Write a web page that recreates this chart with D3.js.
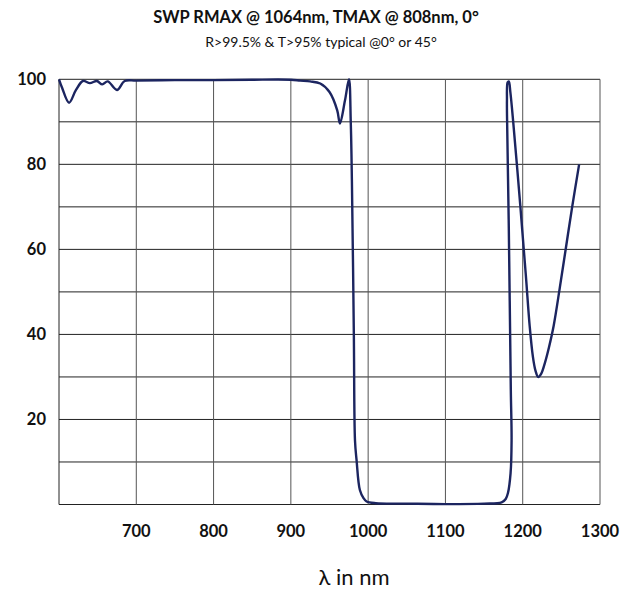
<!DOCTYPE html>
<html>
<head>
<meta charset="utf-8">
<script src="https://cdn.jsdelivr.net/npm/d3@7"></script>
<style>
  body { margin: 0; background: #fff; }
  svg { display: block; font-family: Lato, "Open Sans", sans-serif; }
</style>
</head>
<body>
<svg width="621" height="592"></svg>
<script>
// reflectance curve (nm, %R)
var wavelength = [600, 604, 613, 622, 631, 640, 649, 656, 663, 675, 685, 700, 750, 800, 850, 900,
    912, 925, 938, 950, 960, 963.5, 970, 975.2, 977.5, 979, 981.5, 983, 985, 989.3, 994, 998,
    1010, 1050, 1100, 1150, 1172.7, 1178, 1180.9, 1184.3, 1185.6, 1184.6, 1182, 1180, 1179.6,
    1180.5, 1182, 1184, 1187.7, 1197, 1204, 1209, 1213, 1216.5, 1220, 1224, 1229, 1234, 1240,
    1248, 1256, 1264, 1273];
var reflect = [100, 98, 94.5, 97.5, 99.6, 99.1, 99.6, 98.8, 99.5, 97.5, 99.6, 99.7, 99.8, 99.8, 99.9, 99.9,
    99.7, 99.5, 99.0, 97.0, 92.7, 89.6, 95, 100, 90, 76, 40, 15, 10.5, 3.4, 1.5, 0.7,
    0.3, 0.2, 0.1, 0.2, 0.5, 1.3, 2.7, 7.4, 15, 27, 65, 88, 95,
    99.3, 99.5, 97, 90, 70, 54, 42, 35, 31.5, 30, 30.8, 33.5, 37, 42,
    51, 60.5, 70, 80];

var xTicks = [700, 800, 900, 1000, 1100, 1200, 1300];
var xGrid = [600, 700, 800, 900, 1000, 1100, 1200, 1300];
var yTicks = [20, 40, 60, 80, 100];
var yGrid = [0, 10, 20, 30, 40, 50, 60, 70, 80, 90, 100];

var svg = d3.select("svg");

var x = d3.scaleLinear().domain([600, 1300]).range([59, 600]);
var y = d3.scaleLinear().domain([0, 100]).range([504.5, 79.3]);

// title
svg.append("text")
    .attr("x", 316).attr("y", 23)
    .attr("text-anchor", "middle")
    .attr("font-weight", "bold")
    .attr("font-size", "16.5px")
    .attr("fill", "#111")
    .text("SWP RMAX @ 1064nm, TMAX @ 808nm, 0°");

svg.append("text")
    .attr("x", 321).attr("y", 47)
    .attr("text-anchor", "middle")
    .attr("font-size", "14px")
    .attr("fill", "#111")
    .text("R>99.5% & T>95% typical @0° or 45°");

// grid
svg.append("g")
    .selectAll("line")
    .data(yGrid)
    .enter().append("line")
    .attr("x1", x(600)).attr("x2", x(1300))
    .attr("y1", function(d) { return y(d); })
    .attr("y2", function(d) { return y(d); })
    .attr("stroke", "#222")
    .attr("stroke-width", 1);

svg.append("g")
    .selectAll("line")
    .data(xGrid)
    .enter().append("line")
    .attr("x1", function(d) { return x(d); })
    .attr("x2", function(d) { return x(d); })
    .attr("y1", y(0)).attr("y2", y(100))
    .attr("stroke", function(d) { return d == 600 ? "#222" : "#555"; })
    .attr("stroke-width", 1);

// tick labels
svg.append("g")
    .selectAll("text")
    .data(xTicks)
    .enter().append("text")
    .attr("x", function(d) { return x(d); })
    .attr("y", 537)
    .attr("text-anchor", "middle")
    .attr("font-weight", "bold")
    .attr("font-size", "16.5px")
    .attr("fill", "#111")
    .text(function(d) { return d; });

svg.append("g")
    .selectAll("text")
    .data(yTicks)
    .enter().append("text")
    .attr("x", 46)
    .attr("y", function(d) { return y(d); })
    .attr("dy", "0.35em")
    .attr("text-anchor", "end")
    .attr("font-weight", "bold")
    .attr("font-size", "16.5px")
    .attr("fill", "#111")
    .text(function(d) { return d; });

svg.append("text")
    .attr("x", 354).attr("y", 585)
    .attr("text-anchor", "middle")
    .attr("font-size", "22px")
    .attr("fill", "#111")
    .text("λ in nm");

// curve
var line = d3.line()
    .x(function(d, i) { return x(wavelength[i]); })
    .y(function(d) { return y(d); })
    .curve(d3.curveCatmullRom.alpha(0.5));

svg.append("path")
    .datum(reflect)
    .attr("d", line)
    .attr("fill", "none")
    .attr("stroke", "#1c2560")
    .attr("stroke-width", 2.4)
    .attr("stroke-linejoin", "round");
</script>
</body>
</html>
